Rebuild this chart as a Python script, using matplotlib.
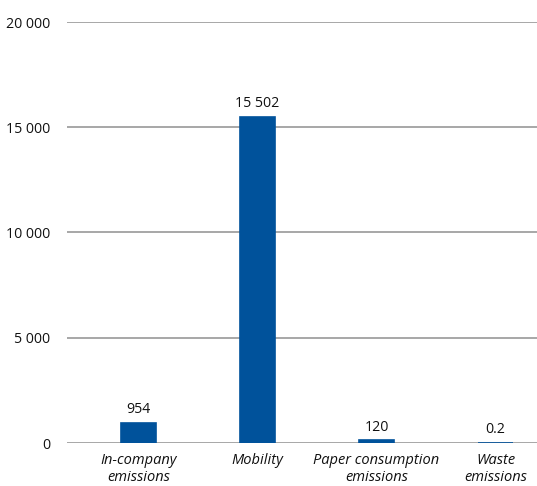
import matplotlib
matplotlib.use('Agg')
import matplotlib.pyplot as plt
from matplotlib.ticker import FuncFormatter

categories = ['In-company\nemissions', 'Mobility', 'Paper consumption\nemissions', 'Waste\nemissions']
values = [954, 15502, 120, 0.2]
value_labels = ['954', '15 502', '120', '0.2']
yticks = [0, 5000, 10000, 15000, 20000]

plt.rcParams['font.family'] = ['Open Sans', 'DejaVu Sans']

fig = plt.figure(figsize=(5.37, 4.86), dpi=100)
ax = fig.add_axes([67 / 537, 43 / 486, 470 / 537, 421 / 486])

bar_color = '#00529b'
xs = list(range(len(values)))
# thin outline in the fill colour keeps the tiny bars visible
ax.bar(xs, values, width=0.29, color=bar_color, edgecolor=bar_color,
       linewidth=1.2, zorder=3)

for x, v, lab in zip(xs, values, value_labels):
    ax.annotate(lab, (x, v), xytext=(0, 4), textcoords='offset points',
                ha='center', va='bottom', fontsize=10.2, color='#111111')

ax.set_ylim(0, 20000)
ax.set_xlim(-0.601, 3.349)
ax.set_yticks(yticks)
ax.yaxis.set_major_formatter(FuncFormatter(lambda v, p: f'{int(v):,}'.replace(',', ' ')))
ax.grid(axis='y', color='#a0a0a0', linewidth=1.3, zorder=0)
ax.set_xticks(xs)
ax.set_xticklabels(categories, fontstyle='italic', fontsize=10.5, linespacing=1.2)

for s in ax.spines.values():
    s.set_visible(False)
ax.tick_params(axis='y', length=0, pad=12, labelsize=10.2, labelcolor='#111111')
ax.tick_params(axis='x', length=0, pad=7, labelcolor='#111111')

fig.savefig('out.png', dpi=100)
